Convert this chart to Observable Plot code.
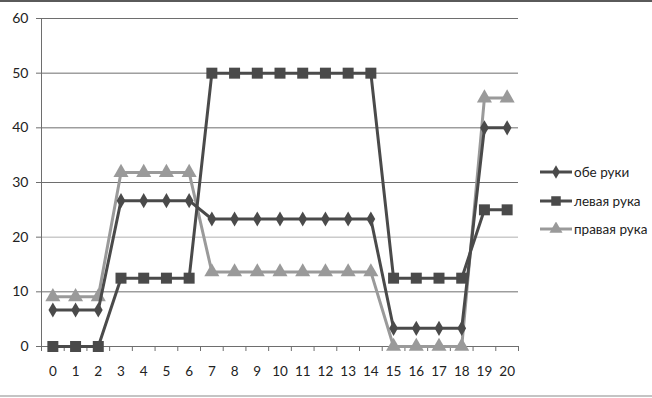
<!DOCTYPE html>
<html><head><meta charset="utf-8">
<script src="https://cdn.jsdelivr.net/npm/d3@7"></script>
<script src="https://cdn.jsdelivr.net/npm/@observablehq/plot@0.6"></script>
<style>
html,body{margin:0;padding:0;background:#fff;}
#wrap{position:relative;width:652px;height:398px;overflow:hidden;font-family:Lato,"Open Sans",sans-serif;}
#topline{position:absolute;left:0;top:0;width:652px;height:2px;background:#5a5a5a;}
#botline{position:absolute;left:0;top:395px;width:652px;height:2px;background:#c4c4c4;}
#legend{position:absolute;left:540px;top:158px;font-size:13.5px;color:#222;}
.row{display:flex;align-items:center;height:28.5px;}
.row svg{margin-right:2px;}
</style></head>
<body><div id="wrap"><div id="chart"></div><div id="topline"></div><div id="botline"></div><div id="legend"></div></div>
<script>
const xs = d3.range(0, 21);
const seriesNames = ["обе руки", "левая рука", "правая рука"];
const both  = [6.67,6.67,6.67,26.67,26.67,26.67,26.67,23.33,23.33,23.33,23.33,23.33,23.33,23.33,23.33,3.33,3.33,3.33,3.33,40,40];
const left  = [0,0,0,12.5,12.5,12.5,12.5,50,50,50,50,50,50,50,50,12.5,12.5,12.5,12.5,25,25];
const right = [9.09,9.09,9.09,31.82,31.82,31.82,31.82,13.64,13.64,13.64,13.64,13.64,13.64,13.64,13.64,0,0,0,0,45.45,45.45];
const yTicks = [0,10,20,30,40,50,60];

const dark = "#4a4a4a", light = "#9a9a9a";
const styles = [
  {name: seriesNames[0], vals: both,  color: dark,  symbol: "diamond", r: 4.6},
  {name: seriesNames[1], vals: left,  color: dark,  symbol: "square",  r: 6.2},
  {name: seriesNames[2], vals: right, color: light, symbol: "triangle", r: 5.6}
];
const data = s => xs.map((x, i) => ({x, y: s.vals[i]}));
const drawOrder = [styles[2], styles[0], styles[1]];

const halfTicks = d3.range(-0.5, 21, 1);
const plot = Plot.plot({
  width: 652, height: 398,
  marginLeft: 41, marginRight: 134, marginTop: 18, marginBottom: 52,
  style: {fontFamily: "Lato, 'Open Sans', sans-serif", fontSize: "13px", color: "#222", background: "transparent"},
  x: {type: "linear", domain: [-0.5, 20.5]},
  y: {domain: [0, 60]},
  marks: [
    Plot.ruleY(yTicks.filter(d => d > 0), {stroke: d => d === 20 ? "#b0b0b0" : "#6e6e6e", strokeWidth: 1}),
    Plot.axisY({ticks: yTicks, tickSize: 5, tickPadding: 8, stroke: "#6e6e6e", label: null, fontSize: 14}),
    Plot.axisX({ticks: halfTicks, tickSize: 5, tickFormat: () => "", stroke: "#6e6e6e", label: null}),
    Plot.axisX({ticks: xs, tickSize: 0, tickPadding: 20, tickFormat: d => String(d), label: null, fontSize: 13.5}),
    Plot.ruleY([0], {stroke: "#6e6e6e"}),
    Plot.ruleX([-0.5], {stroke: "#6e6e6e", y1: 0, y2: 60}),
    ...drawOrder.flatMap(s => [
      Plot.line(data(s), {x: "x", y: "y", stroke: s.color, strokeWidth: 3}),
      Plot.dot(data(s), {x: "x", y: "y", symbol: () => s.symbol, fill: s.color, stroke: "none", r: s.r})
    ])
  ]
});
document.getElementById("chart").append(plot);

const leg = document.getElementById("legend");
const symPath = {diamond: d3.symbolDiamond, square: d3.symbolSquare, triangle: d3.symbolTriangle};
styles.forEach(s => {
  const row = document.createElement("div");
  row.className = "row";
  const sz = Math.PI * s.r * s.r * (s.symbol === "diamond" ? 0.8 : 0.75);
  const p = d3.symbol(symPath[s.symbol], sz)();
  row.innerHTML = `<svg width="32" height="14"><line x1="0" x2="32" y1="7" y2="7" stroke="${s.color}" stroke-width="3"/><path transform="translate(16,7)" d="${p}" fill="${s.color}"/></svg><span>${s.name}</span>`;
  leg.append(row);
});
</script></body></html>
